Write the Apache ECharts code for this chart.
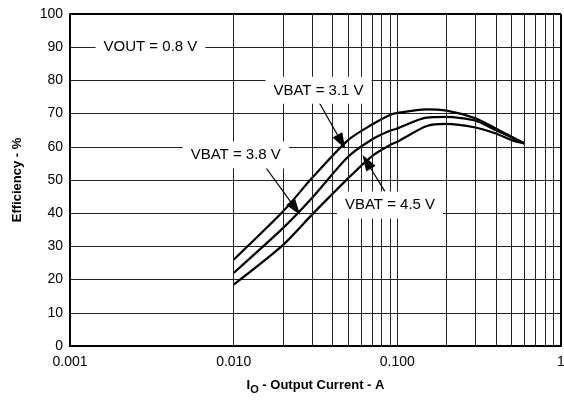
<!DOCTYPE html>
<html><head><meta charset="utf-8">
<script src="https://cdn.jsdelivr.net/npm/echarts@6/dist/echarts.min.js"></script>
<style>html,body{margin:0;padding:0;background:#fff}#c{width:564px;height:400px}</style>
</head><body><div id="c"></div><script>
// Output current (A)
const current = [0.01, 0.02, 0.03, 0.05, 0.07, 0.09, 0.1, 0.15, 0.2, 0.3, 0.4, 0.5, 0.6];
// Efficiency (%)
const vbat31 = [26, 40.5, 50.5, 62, 66.7, 69.6, 70.2, 71.3, 70.9, 68.6, 65.5, 63, 61];
const vbat38 = [22, 35.5, 44.5, 57, 62.2, 64.8, 65.5, 68.8, 69, 67.9, 65, 62.8, 61];
const vbat45 = [18.5, 30.4, 39.5, 50.5, 57.2, 60.5, 61.5, 66.2, 66.9, 65.8, 64, 62, 61];
const xTickLabels = {0.001: '0.001', 0.01: '0.010', 0.1: '0.100', 1: '1'};
const minorGridX = [0.002,0.003,0.004,0.005,0.006,0.007,0.008,0.009,
                    0.02,0.03,0.04,0.05,0.06,0.07,0.08,0.09,
                    0.2,0.3,0.4,0.5,0.6,0.7,0.8,0.9];
// annotation labels: [text, x, y]
const labels = [
  ['VOUT = 0.8 V', 0.0031, 90],
  ['VBAT = 3.1 V', 0.033, 77],
  ['VBAT = 3.8 V', 0.0103, 57.5],
  ['VBAT = 4.5 V', 0.0902, 42.5]
];
// arrows: [fromX, fromY, toX, toY]
const arrows = [
  [0.0327, 74, 0.0455, 61.5],
  [0.0148, 55.5, 0.0238, 41.5],
  [0.084, 46.5, 0.065, 55.5]
];

const chart = echarts.init(document.getElementById('c'), null, {renderer: 'canvas'});
const toPairs = ys => current.map((x, i) => [x, ys[i]]);
const curve = (name, ys) => ({
  name, type: 'line', data: toPairs(ys), showSymbol: false, symbol: 'none',
  lineStyle: {color: '#000', width: 2.2}, z: 3, silent: true, smooth: 0.25
});
chart.setOption({
  animation: false,
  backgroundColor: '#fff',
  grid: {left: 70, right: 3, top: 14, bottom: 54, show: false, containLabel: false, outerBoundsMode: 'none'},
  xAxis: {
    type: 'log', logBase: 10, min: 0.001, max: 1,
    axisLine: {show: true, lineStyle: {color: '#000', width: 2}},
    axisTick: {show: false},
    axisLabel: {color: '#000', fontFamily: 'Liberation Sans, Arial', fontSize: 14, margin: 9,
      formatter: v => xTickLabels[v] !== undefined ? xTickLabels[v] : (+v).toString()},
    splitLine: {show: true, lineStyle: {color: '#222', width: 1}},
    name: '{a|I}{s|O}{a| - Output Current - A}',
    nameLocation: 'middle', nameGap: 30,
    nameTextStyle: {rich: {
      a: {fontFamily: 'Liberation Sans, Arial', fontWeight: 'bold', fontSize: 13, color: '#000'},
      s: {fontFamily: 'Liberation Sans, Arial', fontWeight: 'bold', fontSize: 11, color: '#000', verticalAlign: 'bottom', padding: [8, 0, 0, 0]}
    }}
  },
  yAxis: {
    type: 'value', min: 0, max: 100, interval: 10,
    axisLine: {show: true, lineStyle: {color: '#000', width: 2}},
    axisTick: {show: false},
    axisLabel: {color: '#000', fontFamily: 'Liberation Sans, Arial', fontSize: 14, margin: 7},
    splitLine: {show: true, lineStyle: {color: '#222', width: 1}},
    name: 'Efficiency - %', nameLocation: 'middle', nameGap: 46,
    nameTextStyle: {fontFamily: 'Liberation Sans, Arial', fontWeight: 'bold', fontSize: 13, color: '#000'}
  },
  series: [
    {
      type: 'line', data: [], z: 1, silent: true,
      markLine: {
        silent: true, symbol: 'none', animation: false,
        label: {show: false},
        lineStyle: {color: '#222', width: 1, type: 'solid'},
        data: minorGridX.map(x => ({xAxis: x}))
      }
    },
    {
      type: 'line', data: [], z: 2, silent: true,
      markLine: {
        silent: true, symbol: 'none', animation: false, label: {show: false},
        lineStyle: {color: '#000', width: 2, type: 'solid'},
        data: [{yAxis: 100}, {xAxis: 1}]
      }
    },
    curve('VBAT = 3.1 V', vbat31),
    curve('VBAT = 3.8 V', vbat38),
    curve('VBAT = 4.5 V', vbat45),
    {
      type: 'line', data: [], z: 5, silent: true,
      markPoint: {
        silent: true, symbol: 'circle', symbolSize: 0, animation: false,
        label: {
          show: true, position: 'inside', color: '#000', fontFamily: 'Liberation Sans, Arial', fontSize: 15,
          backgroundColor: '#fff', padding: [6, 8]
        },
        data: labels.map(l => ({coord: [l[1], l[2]], value: l[0], label: {formatter: l[0]}}))
      },
      markLine: {
        silent: true, animation: false, label: {show: false},
        symbol: ['none', 'triangle'], symbolSize: [11, 16],
        lineStyle: {color: '#000', width: 1.2, type: 'solid'},
        data: arrows.map(a => [{coord: [a[0], a[1]]}, {coord: [a[2], a[3]]}])
      }
    }
  ]
});
</script></body></html>
